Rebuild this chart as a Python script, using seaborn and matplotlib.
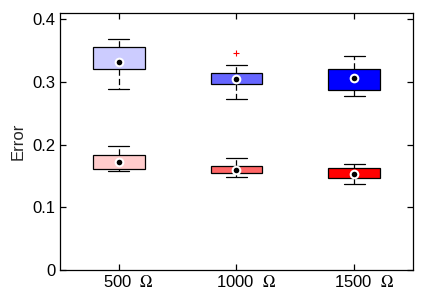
import matplotlib
matplotlib.use("Agg")
import matplotlib.pyplot as plt
import matplotlib.transforms as mtransforms
import seaborn as sns
import pandas as pd

# ---- data (five-number summaries) ----
categories = ["500  $\\Omega$", "1000  $\\Omega$", "1500  $\\Omega$"]

upper_whislo = [0.288, 0.272, 0.277]
upper_q1 = [0.320, 0.296, 0.287]
upper_median = [0.332, 0.305, 0.307]
upper_q3 = [0.356, 0.314, 0.320]
upper_whishi = [0.368, 0.3265, 0.342]
upper_outliers = [[], [0.346], []]

lower_whislo = [0.1574, 0.1478, 0.1372]
lower_q1 = [0.1606, 0.1542, 0.1472]
lower_median = [0.1718, 0.1595, 0.1526]
lower_q3 = [0.183, 0.1654, 0.1622]
lower_whishi = [0.1978, 0.178, 0.1695]
lower_outliers = [[], [], []]

upper_colors = ["#CCCCFF", "#6666FF", "#0000FF"]
lower_colors = ["#FFCCCC", "#FF6666", "#FF0000"]

yticks = [0, 0.1, 0.2, 0.3, 0.4]
ytick_labels = ["0", "0.1", "0.2", "0.3", "0.4"]


def samples(cats, wlo, q1, med, q3, whi, outs):
    rows = []
    for c, a, b, m, d, e, o in zip(cats, wlo, q1, med, q3, whi, outs):
        if o:
            vals = [a, b, b, m, m, d, d, e] + list(o)
        else:
            vals = [a, b, m, d, e]
        rows += [(c, v) for v in vals]
    return pd.DataFrame(rows, columns=["R", "Error"])


df_up = samples(categories, upper_whislo, upper_q1, upper_median, upper_q3,
                upper_whishi, upper_outliers)
df_lo = samples(categories, lower_whislo, lower_q1, lower_median, lower_q3,
                lower_whishi, lower_outliers)
med_up = pd.DataFrame({"R": categories, "Error": upper_median})
med_lo = pd.DataFrame({"R": categories, "Error": lower_median})

sns.set_style("ticks")
plt.rcParams["font.family"] = ["Liberation Sans", "DejaVu Sans"]
plt.rcParams["mathtext.fontset"] = "stix"

fig = plt.figure(figsize=(4.28, 3.01), dpi=100)
ax = fig.add_axes([0.140, 0.103, 0.825, 0.854])

lw = 0.9
common = dict(
    x="R", y="Error", hue="R", legend=False, width=0.44, linecolor="black",
    linewidth=lw, whis=1.5, ax=ax, saturation=1,
    medianprops=dict(visible=False),
    whiskerprops=dict(linestyle=(0, (5, 2.5))),
    flierprops=dict(marker="+", markeredgecolor="red", markerfacecolor="red",
                    markersize=5, markeredgewidth=0.8),
    capwidths=0.18,
)
sns.boxplot(data=df_up, palette=upper_colors, **common)
sns.boxplot(data=df_lo, palette=lower_colors, **common)

for d in (med_up, med_lo):
    sns.pointplot(data=d, x="R", y="Error", color="white", linestyle="none",
                  marker="o", markersize=7, markeredgewidth=0, errorbar=None,
                  ax=ax, zorder=5)
    sns.pointplot(data=d, x="R", y="Error", color="black", linestyle="none",
                  marker="o", markersize=4, markeredgewidth=0, errorbar=None,
                  ax=ax, zorder=6)

ax.set_xlim(-0.5, 2.5)
ax.set_ylim(0, 0.41)
ax.set_yticks(yticks)
ax.set_yticklabels(ytick_labels)
ax.set_xlabel("")
ax.set_ylabel("Error", fontsize=12, labelpad=5)

for s in ax.spines.values():
    s.set_visible(True)
    s.set_linewidth(0.9)
    s.set_color("black")
ax.tick_params(direction="in", length=4, width=0.9, top=True, right=True,
               labelsize=12, colors="black", pad=3)

offset = mtransforms.ScaledTranslation(10 / 100, 0, fig.dpi_scale_trans)
for lab in ax.get_xticklabels():
    lab.set_transform(lab.get_transform() + offset)

fig.savefig("out.png", dpi=100)
